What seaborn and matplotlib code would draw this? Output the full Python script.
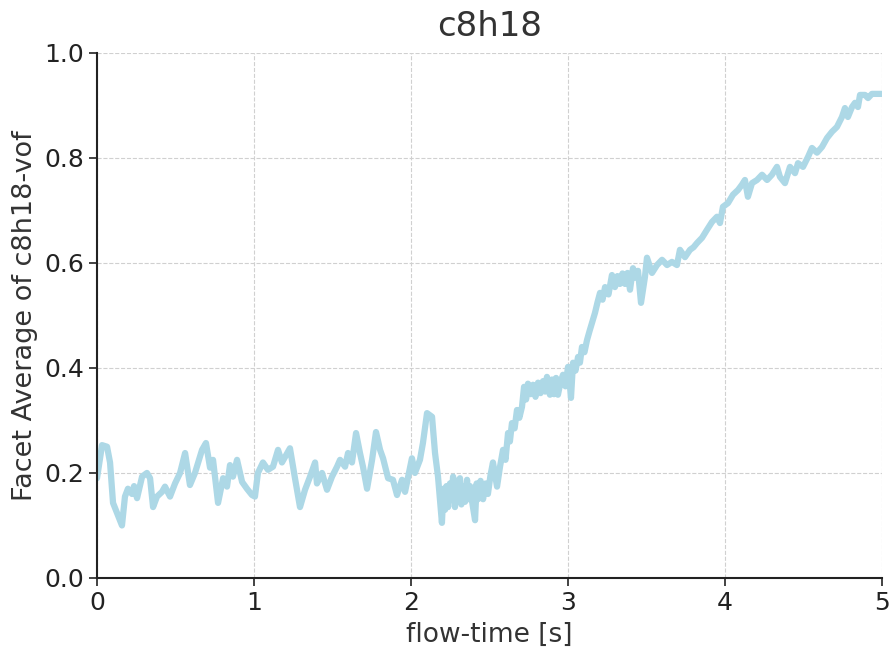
import matplotlib
matplotlib.use("Agg")
from matplotlib import pyplot as plt
import seaborn as sns
import pandas as pd

# flow-time [s] and facet average of c8h18-vof
flow_time = [
    0.000, 0.032, 0.064, 0.083, 0.102, 0.127, 0.159, 0.178, 0.197, 0.223,
    0.236, 0.255, 0.287, 0.318, 0.338, 0.357, 0.382, 0.414, 0.433, 0.465,
    0.497, 0.529, 0.561, 0.592, 0.624, 0.669, 0.694, 0.720, 0.739, 0.771,
    0.803, 0.828, 0.847, 0.866, 0.892, 0.924, 0.955, 0.987, 1.006, 1.025,
    1.057, 1.089, 1.121, 1.153, 1.178, 1.197, 1.229, 1.261, 1.293, 1.325,
    1.357, 1.389, 1.401, 1.433, 1.465, 1.497, 1.529, 1.548, 1.580, 1.599,
    1.624, 1.650, 1.675, 1.694, 1.720, 1.752, 1.777, 1.803, 1.822, 1.854,
    1.885, 1.911, 1.943, 1.962, 1.987, 2.006, 2.025, 2.057, 2.076, 2.102,
    2.134, 2.153, 2.172, 2.197, 2.207, 2.217, 2.226, 2.236, 2.248, 2.258,
    2.268, 2.280, 2.290, 2.299, 2.312, 2.321, 2.331, 2.344, 2.357, 2.366,
    2.376, 2.392, 2.408, 2.418, 2.427, 2.443, 2.459, 2.475, 2.490, 2.506,
    2.522, 2.548, 2.567, 2.586, 2.602, 2.618, 2.630, 2.643, 2.660, 2.675,
    2.690, 2.707, 2.720, 2.733, 2.745, 2.761, 2.777, 2.793, 2.809, 2.825,
    2.841, 2.854, 2.866, 2.876, 2.885, 2.898, 2.911, 2.924, 2.936, 2.952,
    2.968, 2.984, 3.000, 3.010, 3.019, 3.032, 3.048, 3.064, 3.076, 3.089,
    3.105, 3.121, 3.137, 3.153, 3.172, 3.188, 3.204, 3.220, 3.236, 3.258,
    3.280, 3.299, 3.315, 3.331, 3.347, 3.363, 3.379, 3.395, 3.414, 3.430,
    3.446, 3.465, 3.490, 3.503, 3.535, 3.567, 3.599, 3.631, 3.662, 3.694,
    3.713, 3.745, 3.777, 3.800, 3.822, 3.854, 3.885, 3.917, 3.949, 3.968,
    3.987, 4.019, 4.051, 4.083, 4.108, 4.127, 4.146, 4.172, 4.204, 4.236,
    4.268, 4.299, 4.331, 4.350, 4.382, 4.414, 4.446, 4.465, 4.497, 4.529,
    4.554, 4.586, 4.618, 4.650, 4.682, 4.713, 4.745, 4.764, 4.783, 4.809,
    4.828, 4.847, 4.860, 4.892, 4.911, 4.936, 4.975, 5.000,
]
vof = [
    0.190, 0.253, 0.250, 0.220, 0.143, 0.124, 0.100, 0.155, 0.170, 0.160,
    0.175, 0.152, 0.193, 0.200, 0.190, 0.135, 0.155, 0.164, 0.174, 0.155,
    0.180, 0.200, 0.238, 0.177, 0.200, 0.244, 0.257, 0.210, 0.225, 0.143,
    0.190, 0.174, 0.215, 0.193, 0.225, 0.183, 0.170, 0.158, 0.155, 0.200,
    0.220, 0.206, 0.212, 0.244, 0.220, 0.230, 0.247, 0.190, 0.135, 0.168,
    0.193, 0.220, 0.180, 0.200, 0.168, 0.193, 0.212, 0.225, 0.212, 0.238,
    0.220, 0.276, 0.238, 0.212, 0.170, 0.225, 0.278, 0.244, 0.228, 0.190,
    0.187, 0.158, 0.187, 0.164, 0.200, 0.228, 0.200, 0.225, 0.257, 0.314,
    0.307, 0.238, 0.193, 0.105, 0.170, 0.130, 0.175, 0.135, 0.180, 0.150,
    0.193, 0.135, 0.185, 0.160, 0.190, 0.140, 0.175, 0.145, 0.187, 0.150,
    0.175, 0.140, 0.110, 0.180, 0.150, 0.185, 0.150, 0.180, 0.160, 0.195,
    0.220, 0.174, 0.212, 0.244, 0.225, 0.276, 0.260, 0.295, 0.285, 0.320,
    0.305, 0.326, 0.364, 0.340, 0.370, 0.350, 0.368, 0.345, 0.372, 0.352,
    0.375, 0.355, 0.383, 0.362, 0.349, 0.378, 0.350, 0.381, 0.349, 0.372,
    0.387, 0.365, 0.402, 0.375, 0.343, 0.410, 0.395, 0.421, 0.410, 0.440,
    0.430, 0.453, 0.470, 0.486, 0.505, 0.525, 0.543, 0.530, 0.554, 0.540,
    0.577, 0.554, 0.575, 0.560, 0.580, 0.560, 0.581, 0.549, 0.590, 0.572,
    0.585, 0.524, 0.573, 0.610, 0.581, 0.596, 0.606, 0.596, 0.602, 0.596,
    0.625, 0.611, 0.625, 0.630, 0.638, 0.648, 0.663, 0.678, 0.688, 0.676,
    0.707, 0.714, 0.730, 0.739, 0.749, 0.758, 0.726, 0.752, 0.758, 0.768,
    0.758, 0.768, 0.783, 0.764, 0.752, 0.783, 0.771, 0.790, 0.783, 0.802,
    0.819, 0.810, 0.821, 0.838, 0.850, 0.859, 0.878, 0.895, 0.878, 0.897,
    0.905, 0.897, 0.920, 0.920, 0.914, 0.922, 0.922, 0.922,
]

df = pd.DataFrame({'flow-time': flow_time, 'vof': vof})

sns.set_style('ticks')
plt.rcParams['font.family'] = ['DejaVu Sans']

fig = plt.figure(figsize=(8.9, 6.55), dpi=100)
ax = fig.add_axes([0.109, 0.1176, 0.882, 0.8016])

sns.lineplot(data=df, x='flow-time', y='vof', ax=ax, color='#ADD8E6', linewidth=4.5)

ax.set_xlim(0, 5)
ax.set_ylim(0, 1)
ax.set_xticks([0, 1, 2, 3, 4, 5])
ax.set_yticks([0.0, 0.2, 0.4, 0.6, 0.8, 1.0])
ax.grid(True, linestyle='--', color='#d0d0d0', linewidth=0.8)
for side in ['top', 'right']:
    ax.spines[side].set_visible(False)
for side in ['left', 'bottom']:
    ax.spines[side].set_linewidth(1.5)
    ax.spines[side].set_color('#222222')
ax.tick_params(axis='both', labelsize=18, length=6, width=1.2, colors='#222222')

ax.set_xlabel('flow-time [s]', fontsize=19, color='#333333', labelpad=5)
ax.set_ylabel('Facet Average of c8h18-vof', fontsize=19.5, color='#333333', labelpad=4)
ax.set_title('c8h18', fontsize=24.5, color='#333333', pad=12)

plt.savefig('out.png', dpi=100)
